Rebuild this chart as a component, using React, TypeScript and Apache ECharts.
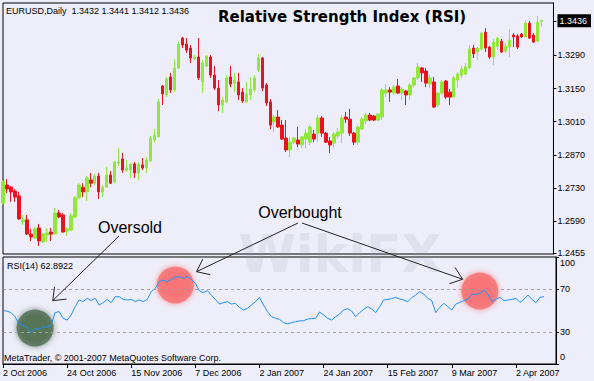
import { useEffect, useRef } from "react";
import * as echarts from "echarts";

const symbolName = "EURUSD";
const timeframe = "Daily";
const chartTitle = "Relative Strength Index (RSI)";
const rsiPeriod = 14;
const copyright = "MetaTrader, \u00a9 2001-2007 MetaQuotes Software Corp.";
const watermark = "WikiFX";

const firstDay = "2006-10-02";
const holidays = ["2006-12-25", "2007-01-01"];
const totalSlots = 139;
const monthNames = ["Jan", "Feb", "Mar", "Apr", "May", "Jun", "Jul", "Aug", "Sep", "Oct", "Nov", "Dec"];

// [open, close, low, high]
const ohlc: number[][] = [
  [1.2667, 1.2756, 1.2659, 1.2764], [1.2743, 1.2726, 1.2709, 1.2768], [1.2734, 1.2714, 1.2672, 1.2739],
  [1.2718, 1.2692, 1.2672, 1.2726], [1.2697, 1.2600, 1.2596, 1.2714], [1.2588, 1.2596, 1.2575, 1.2617],
  [1.2596, 1.2536, 1.2532, 1.2617], [1.2536, 1.2524, 1.2507, 1.2558], [1.2519, 1.2558, 1.2515, 1.2566],
  [1.2562, 1.2507, 1.2486, 1.2579], [1.2503, 1.2536, 1.2498, 1.2541], [1.2532, 1.2541, 1.2503, 1.2562],
  [1.2545, 1.2536, 1.2507, 1.2562], [1.2536, 1.2625, 1.2532, 1.2646], [1.2625, 1.2608, 1.2604, 1.2638],
  [1.2617, 1.2545, 1.2541, 1.2625], [1.2549, 1.2558, 1.2528, 1.2566], [1.2553, 1.2613, 1.2549, 1.2625],
  [1.2608, 1.2689, 1.2604, 1.2697], [1.2689, 1.2743, 1.2684, 1.2751], [1.2734, 1.2714, 1.2693, 1.2751],
  [1.2714, 1.2773, 1.2676, 1.2781], [1.2764, 1.2751, 1.2734, 1.2794], [1.2751, 1.2781, 1.2743, 1.2790],
  [1.2781, 1.2714, 1.2684, 1.2794], [1.2714, 1.2734, 1.2693, 1.2743], [1.2734, 1.2785, 1.2734, 1.2819],
  [1.2785, 1.2751, 1.2747, 1.2802], [1.2756, 1.2840, 1.2751, 1.2845], [1.2836, 1.2840, 1.2823, 1.2899],
  [1.2853, 1.2806, 1.2794, 1.2878], [1.2806, 1.2815, 1.2798, 1.2849], [1.2806, 1.2832, 1.2773, 1.2836],
  [1.2832, 1.2794, 1.2773, 1.2840], [1.2794, 1.2832, 1.2764, 1.2840], [1.2828, 1.2815, 1.2806, 1.2857],
  [1.2815, 1.2849, 1.2794, 1.2861], [1.2845, 1.2941, 1.2840, 1.2950], [1.2933, 1.2954, 1.2924, 1.2979],
  [1.2946, 1.3094, 1.2946, 1.3106], [1.3161, 1.3127, 1.3081, 1.3165], [1.3123, 1.3190, 1.3114, 1.3199],
  [1.3199, 1.3144, 1.3131, 1.3216], [1.3144, 1.3237, 1.3135, 1.3275], [1.3237, 1.3338, 1.3232, 1.3347],
  [1.3363, 1.3334, 1.3321, 1.3368], [1.3338, 1.3312, 1.3300, 1.3363], [1.3321, 1.3279, 1.3258, 1.3334],
  [1.3275, 1.3283, 1.3270, 1.3291], [1.3283, 1.3195, 1.3186, 1.3363], [1.3178, 1.3258, 1.3131, 1.3270],
  [1.3245, 1.3287, 1.3241, 1.3291], [1.3283, 1.3207, 1.3195, 1.3291], [1.3207, 1.3152, 1.3144, 1.3245],
  [1.3152, 1.3081, 1.3055, 1.3186], [1.3081, 1.3102, 1.3047, 1.3114], [1.3094, 1.3195, 1.3089, 1.3207],
  [1.3199, 1.3169, 1.3156, 1.3245], [1.3173, 1.3186, 1.3135, 1.3216], [1.3178, 1.3123, 1.3102, 1.3216],
  [1.3135, 1.3098, 1.3089, 1.3152], [1.3094, 1.3127, 1.3089, 1.3178], [1.3123, 1.3148, 1.3102, 1.3199],
  [1.3144, 1.3195, 1.3135, 1.3207], [1.3228, 1.3279, 1.3220, 1.3296], [1.3279, 1.3152, 1.3140, 1.3283],
  [1.3165, 1.3089, 1.3077, 1.3173], [1.3094, 1.2996, 1.2979, 1.3106], [1.3009, 1.3030, 1.2966, 1.3038],
  [1.3030, 1.2988, 1.2984, 1.3059], [1.2996, 1.2937, 1.2933, 1.3017], [1.2941, 1.2891, 1.2882, 1.3017],
  [1.2891, 1.2924, 1.2861, 1.2946], [1.2924, 1.2941, 1.2916, 1.2946], [1.2933, 1.2916, 1.2903, 1.2988],
  [1.2912, 1.2946, 1.2899, 1.2950], [1.2937, 1.2962, 1.2899, 1.2979], [1.2924, 1.2988, 1.2912, 1.2996],
  [1.2958, 1.2937, 1.2924, 1.2975], [1.2962, 1.3026, 1.2924, 1.3038], [1.3026, 1.2962, 1.2946, 1.3034],
  [1.2962, 1.2924, 1.2920, 1.2967], [1.2929, 1.2912, 1.2878, 1.2946], [1.2920, 1.2958, 1.2899, 1.2967],
  [1.2950, 1.2967, 1.2937, 1.2984], [1.2962, 1.3026, 1.2920, 1.3038], [1.3030, 1.3021, 1.3005, 1.3051],
  [1.3021, 1.2962, 1.2950, 1.3064], [1.2962, 1.2924, 1.2912, 1.2967], [1.2924, 1.2988, 1.2912, 1.2996],
  [1.2979, 1.3021, 1.2975, 1.3030], [1.3013, 1.3038, 1.3000, 1.3047], [1.3038, 1.3017, 1.3013, 1.3047],
  [1.3034, 1.3017, 1.3013, 1.3038], [1.3017, 1.3042, 1.3013, 1.3047], [1.3030, 1.3144, 1.3017, 1.3152],
  [1.3131, 1.3144, 1.3114, 1.3169], [1.3144, 1.3135, 1.3094, 1.3156], [1.3131, 1.3156, 1.3123, 1.3165],
  [1.3161, 1.3131, 1.3127, 1.3190], [1.3131, 1.3148, 1.3102, 1.3156], [1.3140, 1.3123, 1.3081, 1.3144],
  [1.3123, 1.3165, 1.3102, 1.3173], [1.3165, 1.3195, 1.3156, 1.3199], [1.3195, 1.3241, 1.3186, 1.3258],
  [1.3237, 1.3216, 1.3178, 1.3241], [1.3224, 1.3173, 1.3156, 1.3237], [1.3169, 1.3195, 1.3152, 1.3207],
  [1.3178, 1.3072, 1.3068, 1.3199], [1.3081, 1.3131, 1.3072, 1.3135], [1.3131, 1.3178, 1.3123, 1.3186],
  [1.3182, 1.3114, 1.3106, 1.3186], [1.3135, 1.3114, 1.3081, 1.3148], [1.3114, 1.3195, 1.3114, 1.3203],
  [1.3186, 1.3211, 1.3152, 1.3220], [1.3207, 1.3232, 1.3195, 1.3245], [1.3211, 1.3241, 1.3207, 1.3258],
  [1.3237, 1.3317, 1.3232, 1.3334], [1.3321, 1.3296, 1.3279, 1.3334], [1.3304, 1.3321, 1.3270, 1.3325],
  [1.3317, 1.3384, 1.3312, 1.3388], [1.3388, 1.3321, 1.3304, 1.3405], [1.3325, 1.3283, 1.3275, 1.3329],
  [1.3283, 1.3346, 1.3249, 1.3359], [1.3329, 1.3363, 1.3312, 1.3368], [1.3350, 1.3304, 1.3300, 1.3359],
  [1.3308, 1.3329, 1.3300, 1.3342], [1.3325, 1.3355, 1.3283, 1.3401], [1.3376, 1.3368, 1.3325, 1.3384],
  [1.3372, 1.3325, 1.3317, 1.3380], [1.3380, 1.3368, 1.3363, 1.3384], [1.3368, 1.3426, 1.3368, 1.3439],
  [1.3426, 1.3363, 1.3359, 1.3435], [1.3376, 1.3346, 1.3342, 1.3384], [1.3350, 1.3430, 1.3346, 1.3456],
  [1.3432, 1.3436, 1.3412, 1.3441],
];

const rsi: number[] = [
  49.8, 49.5, 48.0, 44.2, 37.4, 36.4, 34.3, 29.3, 33.3, 32.4,
  34.9, 34.3, 36.4, 48.0, 49.0, 42.7, 41.1, 45.8, 53.6, 59.8,
  58.3, 61.4, 59.2, 61.4, 55.1, 57.3, 60.4, 57.3, 62.9, 62.9,
  60.4, 59.8, 60.4, 58.3, 59.8, 58.3, 60.4, 67.6, 70.7, 76.9,
  78.5, 76.9, 79.1, 81.0, 81.6, 80.0, 81.6, 79.1, 75.4, 68.5,
  66.7, 68.5, 64.4, 60.4, 56.0, 57.3, 58.3, 56.0, 56.7, 52.9,
  50.5, 52.0, 55.1, 58.3, 62.3, 55.1, 49.0, 44.2, 42.7, 41.7,
  38.6, 37.4, 38.6, 39.6, 40.2, 40.5, 42.0, 42.4, 42.7, 48.6,
  45.8, 42.7, 41.1, 44.2, 46.7, 50.5, 51.7, 49.5, 44.2, 48.0,
  51.1, 53.6, 51.4, 48.0, 53.6, 59.8, 60.4, 61.1, 62.3, 60.7,
  59.8, 58.3, 62.0, 64.5, 67.6, 65.4, 61.4, 59.2, 48.0, 53.0,
  56.7, 53.6, 50.5, 56.0, 57.6, 59.2, 60.4, 65.4, 65.1, 66.0,
  69.2, 65.1, 58.3, 60.4, 62.3, 59.2, 59.8, 60.4, 61.4, 57.6,
  60.4, 64.5, 60.4, 57.3, 62.3, 62.8922,
];

const priceTicks = [1.2455, 1.259, 1.273, 1.287, 1.301, 1.315, 1.329];
const rsiTicks = [0, 30, 70, 100];
const rsiLevels = [70, 30];
const labelEvery = 16;

const zones = [
  { index: 8, value: 33.6, color: "rgba(72,104,72,0.92)" },
  { index: 43, value: 73.8, color: "rgba(248,104,104,0.9)" },
  { index: 119, value: 68.2, color: "rgba(248,104,104,0.9)" },
];

const callouts = [
  { text: "Oversold", at: [130, 227], arrows: [{ from: [119, 236], to: [12.4, 59.2] }] },
  {
    text: "Overbought",
    at: [300, 212],
    arrows: [
      { from: [298, 223], to: [48.3, 86.3] },
      { from: [302, 223], to: [114.7, 79.2] },
    ],
  },
];

const smallFont = "'Liberation Sans', Arial, sans-serif";
const bg = "#eeeefa";
const bullColor = "#8fe83a";
const bearColor = "#e8141c";

function tradingDays(): string[] {
  const out: string[] = [];
  const d = new Date(firstDay + "T00:00:00Z");
  while (out.length < totalSlots) {
    const dow = d.getUTCDay();
    const iso = d.toISOString().slice(0, 10);
    if (dow !== 0 && dow !== 6 && !holidays.includes(iso)) {
      out.push(`${d.getUTCDate()} ${monthNames[d.getUTCMonth()]} ${d.getUTCFullYear()}`);
    }
    d.setUTCDate(d.getUTCDate() + 1);
  }
  return out;
}

export default function App() {
  const ref = useRef<HTMLDivElement>(null);

  useEffect(() => {
    if (!ref.current) return;
    const chart = echarts.init(ref.current, null, { renderer: "svg" });
    const categories = tradingDays();
    const last = ohlc[ohlc.length - 1];
    const lastClose = last[1];

    chart.setOption({
      animation: false,
      backgroundColor: bg,
      grid: [
        { left: 3, top: 3, width: 553, height: 251, show: true, borderColor: "#000", borderWidth: 1, backgroundColor: "transparent" },
        { left: 3, top: 257, width: 553, height: 107, show: true, borderColor: "#000", borderWidth: 1, backgroundColor: "transparent" },
      ],
      xAxis: [
        { type: "category", gridIndex: 0, data: categories, boundaryGap: false, show: false },
        {
          type: "category",
          gridIndex: 1,
          data: categories,
          boundaryGap: false,
          axisLine: { lineStyle: { color: "#000", width: 1 } },
          axisTick: { interval: labelEvery - 1, length: 4, lineStyle: { color: "#000" } },
          axisLabel: {
            interval: labelEvery - 1,
            align: "left",
            margin: 4,
            color: "#000",
            fontSize: 9,
            fontFamily: smallFont,
            hideOverlap: false,
          },
          splitLine: { show: false },
        },
      ],
      yAxis: [
        {
          type: "value",
          gridIndex: 0,
          position: "right",
          min: 1.2452,
          max: 1.3511,
          axisLine: { show: true, lineStyle: { color: "#000" } },
          axisTick: { show: true, length: 3, customValues: [...priceTicks, lastClose], lineStyle: { color: "#000" } },
          axisLabel: {
            customValues: [...priceTicks, lastClose],
            margin: 4,
            color: "#000",
            fontSize: 9,
            fontFamily: smallFont,
            formatter: (v: number) =>
              Math.abs(v - lastClose) < 1e-9 ? `{cur|${v.toFixed(4)}}` : v.toFixed(4),
            rich: {
              cur: { backgroundColor: "#000", color: "#fff", fontSize: 9, fontFamily: smallFont, padding: [2, 4, 2, 2] },
            },
          },
          splitLine: { show: false },
        },
        {
          type: "value",
          gridIndex: 1,
          position: "right",
          min: 0,
          max: 100,
          axisLine: { show: true, lineStyle: { color: "#000" } },
          axisTick: { show: true, length: 3, customValues: rsiTicks, lineStyle: { color: "#000" } },
          axisLabel: {
            customValues: rsiTicks,
            margin: 4,
            color: "#000",
            fontSize: 9,
            fontFamily: smallFont,
            formatter: (v: number) => (v === 100 ? `{top|${v}}` : v === 0 ? `{bot|${v}}` : String(v)),
            rich: {
              top: { fontSize: 9, fontFamily: smallFont, color: "#000", padding: [12, 0, 0, 0] },
              bot: { fontSize: 9, fontFamily: smallFont, color: "#000", padding: [0, 0, 14, 0] },
            },
          },
          splitLine: { show: false },
        },
      ],
      series: [
        {
          type: "candlestick",
          xAxisIndex: 0,
          yAxisIndex: 0,
          data: ohlc,
          barWidth: 3,
          clip: true,
          itemStyle: {
            color: bullColor,
            color0: bearColor,
            borderColor: bullColor,
            borderColor0: bearColor,
            borderWidth: 1,
          },
        },
        {
          type: "scatter",
          xAxisIndex: 1,
          yAxisIndex: 1,
          z: 1,
          symbolSize: 37,
          silent: true,
          data: zones.map((zn) => ({
            value: [zn.index, zn.value],
            itemStyle: { color: zn.color, shadowBlur: 6, shadowColor: zn.color },
          })),
        },
        {
          type: "line",
          xAxisIndex: 1,
          yAxisIndex: 1,
          z: 3,
          data: rsi,
          symbol: "none",
          lineStyle: { color: "#1e90ff", width: 1 },
          markLine: {
            silent: true,
            symbol: ["none", "none"],
            label: { show: false },
            lineStyle: { color: "#a0a0a8", type: [3, 3], width: 1 },
            data: rsiLevels.map((v) => ({ yAxis: v })),
          },
        },
      ],
    });

    const px = (idx: number, val: number): number[] => {
      const i0 = Math.floor(idx);
      const f = idx - i0;
      const a = chart.convertToPixel({ gridIndex: 1 } as any, [i0, val]) as number[];
      const b = chart.convertToPixel({ gridIndex: 1 } as any, [i0 + 1, val]) as number[];
      return [a[0] + (b[0] - a[0]) * f, a[1]];
    };

    const elements: any[] = [
      {
        type: "text",
        x: 340,
        y: 254,
        silent: true,
        z: 0,
        style: {
          text: watermark,
          font: "bold 52px 'DejaVu Sans', sans-serif",
          fill: "rgba(150,150,165,0.14)",
          align: "center",
          verticalAlign: "middle",
        },
      },
      {
        type: "text",
        x: 6,
        y: 11,
        style: {
          text: `${symbolName},${timeframe}  ${last[0].toFixed(4)} ${last[3].toFixed(4)} ${last[2].toFixed(4)} ${last[1].toFixed(4)}`,
          font: `9px ${smallFont}`,
          fill: "#000",
          align: "left",
          verticalAlign: "middle",
        },
      },
      {
        type: "text",
        x: 218,
        y: 17,
        style: {
          text: chartTitle,
          font: "bold 15px 'DejaVu Sans', sans-serif",
          fill: "#000",
          align: "left",
          verticalAlign: "middle",
        },
      },
      {
        type: "text",
        x: 7,
        y: 266,
        style: {
          text: `RSI(${rsiPeriod}) ${rsi[rsi.length - 1].toFixed(4)}`,
          font: `9px ${smallFont}`,
          fill: "#000",
          align: "left",
          verticalAlign: "middle",
        },
      },
      {
        type: "text",
        x: 4,
        y: 358,
        style: {
          text: copyright,
          font: `9px ${smallFont}`,
          fill: "#000",
          align: "left",
          verticalAlign: "middle",
        },
      },
    ];

    const barbLen = 14;
    const barbAngle = (38 * Math.PI) / 180;
    callouts.forEach((c) => {
      elements.push({
        type: "text",
        x: c.at[0],
        y: c.at[1],
        z: 10,
        style: { text: c.text, font: `16px ${smallFont}`, fill: "#000", align: "center", verticalAlign: "middle" },
      });
      c.arrows.forEach((a) => {
        const tip = px(a.to[0], a.to[1]);
        const dx = a.from[0] - tip[0];
        const dy = a.from[1] - tip[1];
        const len = Math.hypot(dx, dy);
        const ux = dx / len;
        const uy = dy / len;
        const rot = (ang: number) => [
          tip[0] + barbLen * (ux * Math.cos(ang) - uy * Math.sin(ang)),
          tip[1] + barbLen * (ux * Math.sin(ang) + uy * Math.cos(ang)),
        ];
        elements.push({
          type: "line",
          z: 10,
          shape: { x1: a.from[0], y1: a.from[1], x2: tip[0], y2: tip[1] },
          style: { stroke: "#222", lineWidth: 1 },
        });
        elements.push({
          type: "polyline",
          z: 10,
          shape: { points: [rot(barbAngle), tip, rot(-barbAngle)] },
          style: { stroke: "#222", lineWidth: 1, fill: null },
        });
      });
    });

    chart.setOption({ graphic: { elements } });

    return () => chart.dispose();
  }, []);

  return (
    <div
      ref={ref}
      style={{ position: "absolute", left: 0, top: 0, width: 594, height: 381, background: bg }}
    />
  );
}
